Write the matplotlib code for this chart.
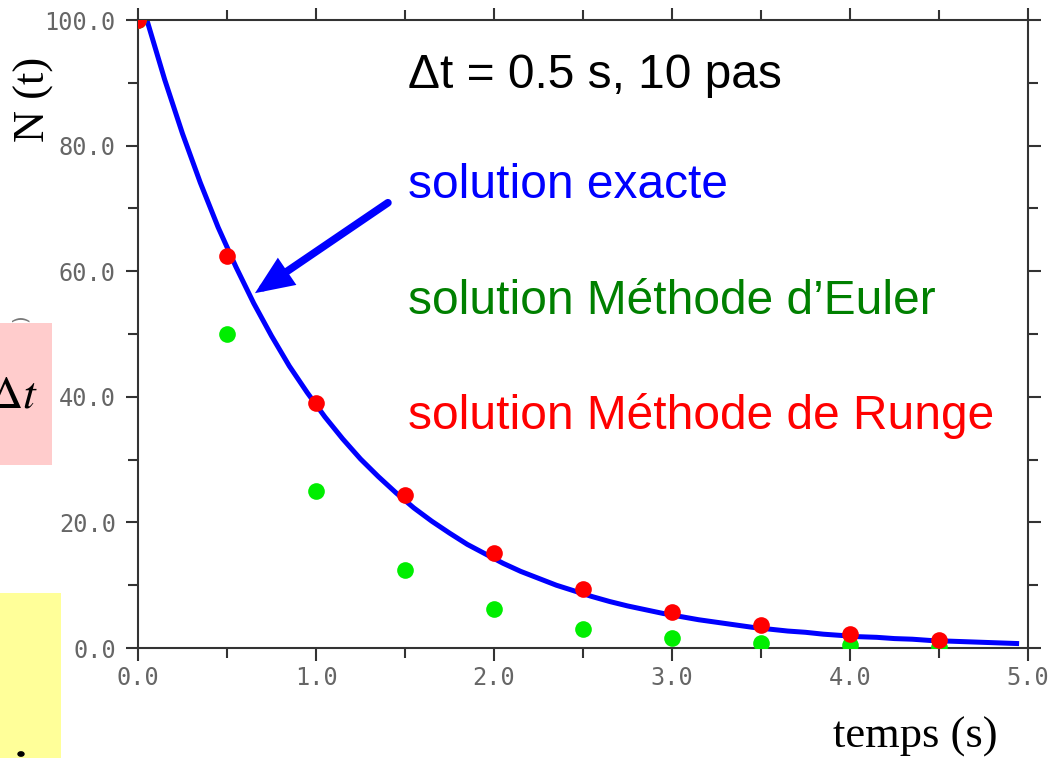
import matplotlib
matplotlib.use("Agg")
import matplotlib.pyplot as plt
from matplotlib.patches import Rectangle
from matplotlib.ticker import MultipleLocator, FormatStrFormatter

W, H = 1054, 758

# ---- data ----
t_exact = [0.05, 0.15, 0.25, 0.35, 0.45, 0.55, 0.65, 0.75, 0.85, 0.95,
           1.05, 1.15, 1.25, 1.35, 1.45, 1.55, 1.65, 1.75, 1.85, 1.95,
           2.05, 2.15, 2.25, 2.35, 2.45, 2.55, 2.65, 2.75, 2.85, 2.95,
           3.05, 3.15, 3.25, 3.35, 3.45, 3.55, 3.65, 3.75, 3.85, 3.95,
           4.05, 4.15, 4.25, 4.35, 4.45, 4.55, 4.65, 4.75, 4.85, 4.95]
n_exact = [100.0, 90.5, 81.9, 74.1, 67.0, 60.7, 54.9, 49.7, 44.9, 40.7,
           36.8, 33.3, 30.1, 27.3, 24.7, 22.3, 20.2, 18.3, 16.5, 15.0,
           13.5, 12.2, 11.1, 10.0, 9.1, 8.2, 7.4, 6.7, 6.1, 5.5,
           5.0, 4.5, 4.1, 3.7, 3.3, 3.0, 2.7, 2.5, 2.2, 2.0,
           1.8, 1.7, 1.5, 1.4, 1.2, 1.1, 1.0, 0.9, 0.8, 0.7]
t_steps = [0.0, 0.5, 1.0, 1.5, 2.0, 2.5, 3.0, 3.5, 4.0, 4.5]
n_euler = [100.0, 50.0, 25.0, 12.5, 6.2, 3.1, 1.6, 0.8, 0.4, 0.2]
n_runge = [100.0, 62.4, 39.0, 24.4, 15.2, 9.4, 5.8, 3.6, 2.2, 1.3]

fig = plt.figure(figsize=(W / 100, H / 100), dpi=100)

def fx(px):
    return px / W

def fy(py):
    return 1 - py / H

# background slide elements
fig.patches.append(Rectangle((0, fy(465)), fx(52), (465 - 323) / H,
                             transform=fig.transFigure, facecolor="#FFCCCC",
                             edgecolor="none", zorder=0))
fig.patches.append(Rectangle((0, 0), fx(61), (758 - 593) / H,
                             transform=fig.transFigure, facecolor="#FFFF99",
                             edgecolor="none", zorder=0))

ax = fig.add_axes([fx(138), fy(648), (1028 - 138) / W, (648 - 20) / H])
ax.set_xlim(0, 5)
ax.set_ylim(0, 100)
ax.patch.set_alpha(0)

spine_c = "#333333"
for s in ax.spines.values():
    s.set_color(spine_c)
    s.set_linewidth(1.5)

ax.xaxis.set_major_locator(MultipleLocator(1.0))
ax.xaxis.set_minor_locator(MultipleLocator(0.5))
ax.yaxis.set_major_locator(MultipleLocator(20))
ax.yaxis.set_minor_locator(MultipleLocator(10))
ax.xaxis.set_major_formatter(FormatStrFormatter("%.1f"))
ax.yaxis.set_major_formatter(FormatStrFormatter("%.1f"))
ax.tick_params(which="both", direction="out", top=True, right=True,
               color=spine_c, width=1.5)
ax.tick_params(which="major", length=9)
ax.tick_params(which="minor", length=7)
ax.tick_params(axis="x", which="major", pad=4, labelsize=17, labelcolor="#666666")
ax.tick_params(axis="y", which="major", pad=7, labelsize=17, labelcolor="#666666")
for lab in ax.get_xticklabels() + ax.get_yticklabels():
    lab.set_family("DejaVu Sans Mono")

ax.plot(t_exact, n_exact, color="#0000FF", lw=3.6, zorder=2, solid_capstyle="butt")
ax.plot(t_steps, n_euler, "o", color="#00EE00", ms=12, mec="none", zorder=3)
ax.plot(t_steps, n_runge, "o", color="#FF0000", ms=12, mec="none", zorder=4)

# arrow
ax.annotate("", xy=(0.657, 56.5), xytext=(1.404, 70.9),
            arrowprops=dict(arrowstyle="-|>,head_length=1.3,head_width=0.55",
                            mutation_scale=14, color="#0000FF", lw=5.5,
                            shrinkA=0, shrinkB=0, joinstyle="miter"),
            zorder=5, annotation_clip=False)

# texts
fs = 34.5
fig.text(fx(408), fy(75), "Δt = 0.5 s, 10 pas", fontsize=fs,
         family="Liberation Sans", color="black", va="center", ha="left")
fig.text(fx(408), fy(186), "solution exacte", fontsize=fs,
         family="Liberation Sans", color="#0000FF", va="center", ha="left")
fig.text(fx(408), fy(301), "solution Méthode d’Euler", fontsize=fs,
         family="Liberation Sans", color="#008000", va="center", ha="left")
fig.text(fx(408), fy(416), "solution Méthode de Runge", fontsize=fs,
         family="Liberation Sans", color="#FF0000", va="center", ha="left")

fig.text(fx(34), fy(99), "N (t)", fontsize=32, family="Liberation Serif",
         rotation=90, va="center", ha="center", color="black")
fig.text(fx(915), fy(737), "temps (s)", fontsize=32, family="Liberation Serif",
         va="center", ha="center", color="black")
fig.text(fx(38), fy(395), r"$\Delta t$", fontsize=33, va="center", ha="right",
         color="black", math_fontfamily="stix")
fig.text(fx(20), fy(318), ")", fontsize=14, rotation=90, color="#777777",
         va="center", ha="center", family="DejaVu Sans")
fig.patches.append(plt.Circle((fx(21), fy(754)), 3 / W, transform=fig.transFigure,
                              color="black", zorder=1))

fig.savefig("out.png", dpi=100)
